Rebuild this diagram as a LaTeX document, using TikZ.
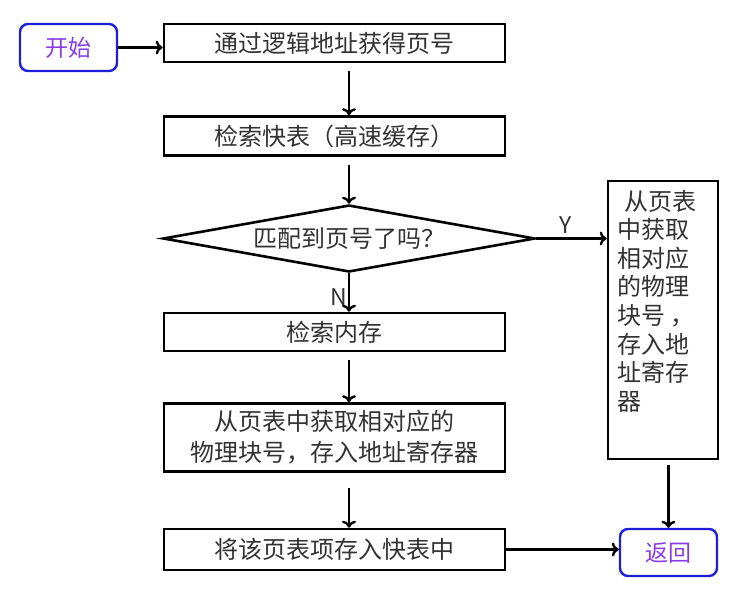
\documentclass[tikz,border=0pt]{standalone}
\usepackage{fontspec}
\setmainfont{Noto Sans CJK SC}
\usetikzlibrary{shapes.geometric, arrows, arrows.meta, positioning}
\definecolor{termblue}{RGB}{30,30,215}
\definecolor{termtext}{RGB}{135,60,230}
\definecolor{inktext}{RGB}{50,50,50}

\begin{document}
\begin{tikzpicture}[x=1pt, y=-1pt,
    terminal/.style={rectangle, rounded corners=8pt, draw=termblue, line width=2.4pt, text=termtext, minimum width=97pt, minimum height=47pt, font=\fontsize{23}{27}\selectfont},
    process/.style={rectangle, draw, line width=2.6pt, minimum width=341pt, text=inktext, font=\fontsize{24}{31}\selectfont, align=center},
    decision/.style={diamond, draw, line width=2.6pt, aspect=5.5, inner sep=0pt, minimum width=372pt, minimum height=67pt, text=inktext, font=\fontsize{24}{30}\selectfont},
    sidebox/.style={rectangle, draw, line width=2.6pt, inner xsep=9pt, inner ysep=9pt, text=inktext, font=\fontsize{24}{28.6}\selectfont},
    arrow/.style={-{To[length=7pt, width=14pt]}, line width=2.4pt, shorten <=8pt}
]
\useasboundingbox (0,0) rectangle (756,606);

\node[terminal] (start) at (68.5, 47.5) {开始};
\node[process, minimum height=38pt] (getpage) at (334.5, 43) {通过逻辑地址获得页号};
\node[process, minimum height=39pt] (tlb) at (334.5, 136) {检索快表（高速缓存）};
\node[decision] (match) at (349, 238.5) {匹配到页号了吗？};
\node[process, minimum height=38pt] (memory) at (334.5, 332) {检索内存};
\node[process, minimum height=68pt] (fetch) at (334.5, 437.5) {从页表中获取相对应的\\物理块号，存入地址寄存器};
\node[process, minimum height=41pt] (update) at (334.5, 549.5) {将该页表项存入快表中};
\node[sidebox] (pagetable) at (663, 320) {\parbox[t][260pt][t]{92pt}{\raggedright
  \hspace*{7pt}从页表\\中获取\\相对应\\的物理\\块号 ，\\存入地\\址寄存\\器}};
\node[terminal] (ret) at (668.5, 552.5) {返回};

\draw[arrow, shorten <=0pt] (start.east) -- (start.east -| getpage.west);
\draw[arrow] (getpage.south -| match.north) -- (tlb.north -| match.north);
\draw[arrow] (tlb.south -| match.north) -- (match.north);
\draw[arrow, shorten <=0pt] (match.east) -- node[above, pos=0.42, text=inktext, font=\fontsize{23}{26}\selectfont]{Y} (match.east -| pagetable.west);
\draw[arrow, shorten <=0pt] (match.south) -- node[left, pos=0.62, text=inktext, font=\fontsize{23}{26}\selectfont, inner sep=1pt]{N} (memory.north -| match.south);
\draw[arrow] (memory.south -| match.north) -- (fetch.north -| match.north);
\draw[arrow, shorten <=15pt] (fetch.south -| match.north) -- (update.north -| match.north);
\draw[arrow, shorten <=0pt] (update.east) -- (update.east -| ret.west);
\draw[arrow, shorten <=5pt] (pagetable.south -| ret.north) -- (ret.north);
\end{tikzpicture}
\end{document}
